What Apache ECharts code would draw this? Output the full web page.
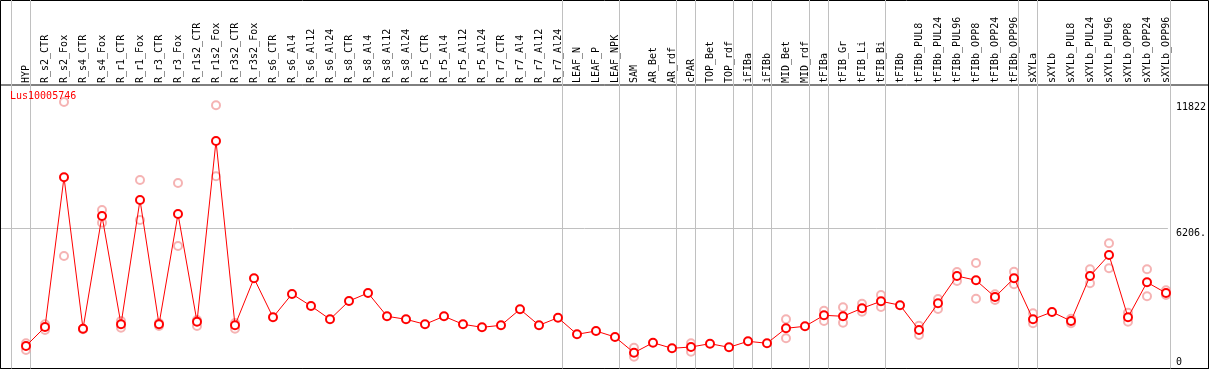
<!DOCTYPE html>
<html>
<head>
<meta charset="utf-8">
<script src="https://cdn.jsdelivr.net/npm/echarts@6/dist/echarts.min.js"></script>
<style>
html,body{margin:0;padding:0;background:#fff;}
#chart{width:1209px;height:370px;}
</style>
</head>
<body>
<div id="chart"></div>
<script>
const geneName = 'Lus10005746';
const categories = ['HYP','R_s2_CTR','R_s2_Fox','R_s4_CTR','R_s4_Fox','R_r1_CTR','R_r1_Fox','R_r3_CTR','R_r3_Fox','R_r1s2_CTR','R_r1s2_Fox','R_r3s2_CTR','R_r3s2_Fox','R_s6_CTR','R_s6_Al4','R_s6_Al12','R_s6_Al24','R_s8_CTR','R_s8_Al4','R_s8_Al12','R_s8_Al24','R_r5_CTR','R_r5_Al4','R_r5_Al12','R_r5_Al24','R_r7_CTR','R_r7_Al4','R_r7_Al12','R_r7_Al24','LEAF_N','LEAF_P','LEAF_NPK','SAM','AR_Bet','AR_rdf','cPAR','TOP_Bet','TOP_rdf','iFIBa','iFIBb','MID_Bet','MID_rdf','tFIBa','tFIB_Gr','tFIB_Li','tFIB_Bi','tFIBb','tFIBb_PUL8','tFIBb_PUL24','tFIBb_PUL96','tFIBb_OPP8','tFIBb_OPP24','tFIBb_OPP96','sXYLa','sXYLb','sXYLb_PUL8','sXYLb_PUL24','sXYLb_PUL96','sXYLb_OPP8','sXYLb_OPP24','sXYLb_OPP96'];
const meanValues = [957,1803,8470,1728,6746,1924,7459,1924,6835,2039,10086,1879,3972,2235,3273,2739,2146,2961,3317,2280,2146,1924,2280,1924,1790,1879,2592,1879,2218,1478,1625,1358,659,1104,855,913,1060,899,1167,1078,1746,1835,2324,2280,2636,2948,2774,1670,2859,4074,3883,3139,3972,2146,2471,2071,4074,5010,2235,3794,3317];
const rep1Values = [1078,1924,4965,1728,7013,2071,8349,1981,8216,2115,11676,1981,null,null,null,null,null,null,null,null,null,null,null,null,null,null,null,null,null,null,null,null,882,null,null,1078,null,null,null,null,2146,null,2529,2681,2841,3228,null,1861,3050,4253,4653,3260,4266,2413,null,2173,4373,5530,2440,4373,3438];
const rep2Values = [779,1670,11822,1700,6448,1772,6568,1848,5410,1848,8514,1728,null,null,null,null,null,null,null,null,null,null,null,null,null,null,null,null,null,null,null,null,481,null,null,704,null,null,null,null,1300,null,2071,1995,2485,2694,null,1447,2605,3852,3064,3006,3705,1968,null,1968,3749,4417,2039,3171,3228];
const yMax = 11822;
const yTickValues = [0, 6206, 11822];
const yTickLabels = ['0', '6206.', '11822'];
// group separators: a line sits before each of these category indices
const groupBreaks = [0,1,29,32,35,36,38,39,40,42,43,46,53,54];

const mono = 'DejaVu Sans Mono';
const gridGray = '#c0c0c0';
const hiddenVal = (g) => ({type:'value', gridIndex:g, show:false});
const labelFor = (v) => { const i = yTickValues.indexOf(v); return i >= 0 ? yTickLabels[i] : ''; };

const chart = echarts.init(document.getElementById('chart'), null, {renderer:'canvas'});
chart.setOption({
  animation:false,
  backgroundColor:'#fff',
  title:{text:geneName,left:10,top:91,padding:0,textStyle:{color:'#ff0000',fontSize:10,fontFamily:mono,fontWeight:'normal'}},
  grid:[
    {left:0.5,right:0.5,top:0.5,bottom:1.5,show:true,borderColor:'#000',borderWidth:1,backgroundColor:'transparent'},
    {left:0.5,right:0.5,top:85,bottom:1.5,show:true,borderColor:'#000',borderWidth:1,backgroundColor:'transparent'},
    {left:11.3,right:38.7,top:0,bottom:1.5},
    {left:1,right:38.7,top:102,bottom:2.5},
    {left:26,right:43,top:102,bottom:2.5}
  ],
  xAxis:[
    hiddenVal(0),
    hiddenVal(1),
    {type:'category',gridIndex:2,data:categories,boundaryGap:true,
     axisLine:{show:false},axisTick:{show:false},axisLabel:{show:false},
     splitLine:{show:true,interval:(idx)=>groupBreaks.includes(idx),lineStyle:{color:gridGray,width:1}}},
    hiddenVal(3),
    {type:'category',gridIndex:4,data:categories,boundaryGap:false,position:'top',
     axisLine:{show:false},axisTick:{show:false},splitLine:{show:false},
     axisLabel:{show:true,interval:0,rotate:90,margin:19,fontSize:10,fontFamily:mono,color:'#000'}}
  ],
  yAxis:[
    hiddenVal(0),
    hiddenVal(1),
    hiddenVal(2),
    {type:'value',gridIndex:3,position:'right',min:0,max:yMax,interval:yTickValues[1],
     axisLine:{show:false},axisTick:{show:false},
     splitLine:{show:true,lineStyle:{color:['rgba(0,0,0,0)',gridGray],width:1}},
     axisLabel:{show:true,margin:8,align:'left',verticalAlign:'top',fontSize:10,fontFamily:mono,color:'#000',
       formatter:(v)=> v === yTickValues[0] ? '' : labelFor(v)}},
    {type:'value',gridIndex:3,position:'right',min:0,max:yMax,interval:yTickValues[1],
     axisLine:{show:false},axisTick:{show:false},splitLine:{show:false},
     axisLabel:{show:true,margin:8,align:'left',verticalAlign:'bottom',fontSize:10,fontFamily:mono,color:'#000',
       formatter:(v)=> v === yTickValues[0] ? labelFor(v) : ''}},
    {type:'value',gridIndex:4,min:0,max:yMax,show:false}
  ],
  series:[
    {type:'scatter',xAxisIndex:4,yAxisIndex:5,data:rep1Values,symbol:'emptyCircle',symbolSize:8,clip:false,
     itemStyle:{color:'#f2a0a0',borderColor:'#f2a0a0',borderWidth:1.5},z:2},
    {type:'scatter',xAxisIndex:4,yAxisIndex:5,data:rep2Values,symbol:'emptyCircle',symbolSize:8,clip:false,
     itemStyle:{color:'#f2a0a0',borderColor:'#f2a0a0',borderWidth:1.5},z:2},
    {type:'line',xAxisIndex:4,yAxisIndex:5,data:meanValues,symbol:'emptyCircle',symbolSize:8,clip:false,
     lineStyle:{color:'#ff0000',width:1},itemStyle:{color:'#ff0000',borderColor:'#ff0000',borderWidth:1.5},z:3}
  ]
});
</script>
</body>
</html>
